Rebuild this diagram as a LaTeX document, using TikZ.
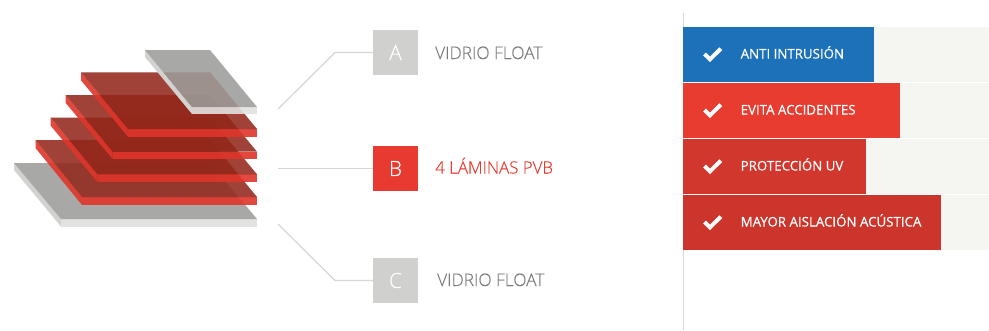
\documentclass[tikz,border=0pt]{standalone}
\usepackage{fontspec}
\setmainfont{Open Sans}
\newfontfamily\lightfont[FakeBold=0.15]{Open Sans Light}
\definecolor{sqgray}{HTML}{D0D0CE}
\definecolor{sqred}{HTML}{E83A30}
\definecolor{linegray}{HTML}{D6D6D4}
\definecolor{labgray}{HTML}{7A7A7A}
\definecolor{trackbg}{HTML}{F5F5F1}
\definecolor{barblue}{HTML}{1D71B8}
\definecolor{barred}{HTML}{E83C31}
\definecolor{barredb}{HTML}{D1372D}
\definecolor{barredc}{HTML}{CC352B}
\definecolor{rface}{HTML}{92271A}
\definecolor{rfront}{HTML}{E0352A}
\definecolor{gface}{HTML}{9C9C9A}
\definecolor{gfront}{HTML}{E2E2E0}
\definecolor{gside}{HTML}{D2D2D0}
\tikzset{
  x=1pt,y=-1pt,
  sq/.style={minimum size=45pt,inner sep=0pt,outer sep=0pt,text=white,font=\lightfont\fontsize{21}{21}\selectfont},
  lab/.style={anchor=base west,inner sep=0pt,text=labgray,font=\lightfont\fontsize{17.3}{18}\selectfont},
  conn/.style={draw=linegray,line width=1.2pt},
  track/.style={anchor=north west,minimum width=306pt,minimum height=55pt,inner sep=0pt,outer sep=0pt,fill=trackbg},
  bar/.style={anchor=north west,minimum height=55pt,inner sep=0pt,outer sep=0pt},
  barlab/.style={anchor=base west,inner sep=0pt,text=white,font=\fontsize{13.3}{14}\selectfont\addfontfeature{FakeBold=0.5}},
  tick/.style={draw=white,line width=4pt,miter limit=10},
  rtop/.style={fill=rface,fill opacity=.87},
  rfr/.style={fill=rfront,fill opacity=.9},
  gtop/.style={fill=gface,fill opacity=.88},
}
\begin{document}
\begin{tikzpicture}
\useasboundingbox (0,0) rectangle (989,330);
\fill[white] (0,0) rectangle (989,330);
% bottom glass
\fill[gside] (14,163) -- (61,219) -- (61,226.5) -- (14,170) -- cycle;
\fill[gfront] (61,219) rectangle (257,226.5);
\fill[gtop] (14,163) -- (210,163) -- (257,219) -- (61,219) -- cycle;
% four PVB sheets
\foreach \xa/\xb/\yb/\yf/\ye in {35.5/82/140/197/205, 50.7/97.5/117.7/174.3/182, 65.7/112.7/95/151.7/159, 81/128/72.3/129/136.7}{
  \fill[rfr] (\xa,\yb) -- (\xb,\yf) -- (\xb,\ye) -- (\xa,\yb+8) -- cycle;
  \fill[rfr] (\xb,\yf) rectangle (257,\ye);
  \fill[rtop] (\xa,\yb) -- (210,\yb) -- (257,\yf) -- (\xb,\yf) -- cycle;
}
% top glass
\fill[gside] (145,50) -- (192,107) -- (192,114) -- (145,57) -- cycle;
\fill[gfront,fill opacity=.9] (192,107) rectangle (257,114);
\fill[gtop] (145,50) -- (210,50) -- (257,107) -- (192,107) -- cycle;
% callouts
\node[sq,fill=sqgray] (A) at (395.5,52.5) {A};
\node[sq,fill=sqred] (B) at (395.5,168.5) {B};
\node[sq,fill=sqgray] (C) at (395.5,280.5) {C};
\coordinate (a0) at (278,109);
\coordinate (a1) at (335,52.5);
\coordinate (b0) at (278,168.5);
\coordinate (c0) at (278,224);
\coordinate (c1) at (335,280.5);
\draw[conn] (a0) -- (a1) -- (A.west);
\draw[conn] (b0) -- (B.west);
\draw[conn] (c0) -- (c1) -- (C.west);
\node[lab] (la) at (435,59) {VIDRIO FLOAT};
\node[lab,text=sqred,font=\lightfont\fontsize{16.9}{18}\selectfont] (lb) at (435,173.5) {4 LÁMINAS PVB};
\node[lab] (lc) at (437,286) {VIDRIO FLOAT};
% chart
\coordinate (v0) at (683.5,13);
\coordinate (v1) at (683.5,330);
\draw[draw=linegray,line width=1pt] (v0) -- (v1);
\foreach \y in {27,83,139,195}{\node[track] at (683,\y) {};}
\node[bar,fill=barblue,minimum width=191pt] (b1) at (683,27) {};
\node[bar,fill=barred,minimum width=217pt] (b2) at (683,83) {};
\node[bar,fill=barredb,minimum width=183pt] (b3) at (683,139) {};
\node[bar,fill=barredc,minimum width=258pt] (b4) at (683,195) {};
\foreach \y in {0,56,112,168}{
  \draw[tick] (704.5,54+\y) -- (710,59.3+\y) -- (720.8,48.7+\y);
}
\node[barlab] (t1) at (740.5,58.5) {ANTI INTRUSIÓN};
\node[barlab] (t2) at (740.5,114.5) {EVITA ACCIDENTES};
\node[barlab] (t3) at (740.5,170.5) {PROTECCIÓN UV};
\node[barlab] (t4) at (740.5,226.5) {MAYOR AISLACIÓN ACÚSTICA};
\end{tikzpicture}
\end{document}
